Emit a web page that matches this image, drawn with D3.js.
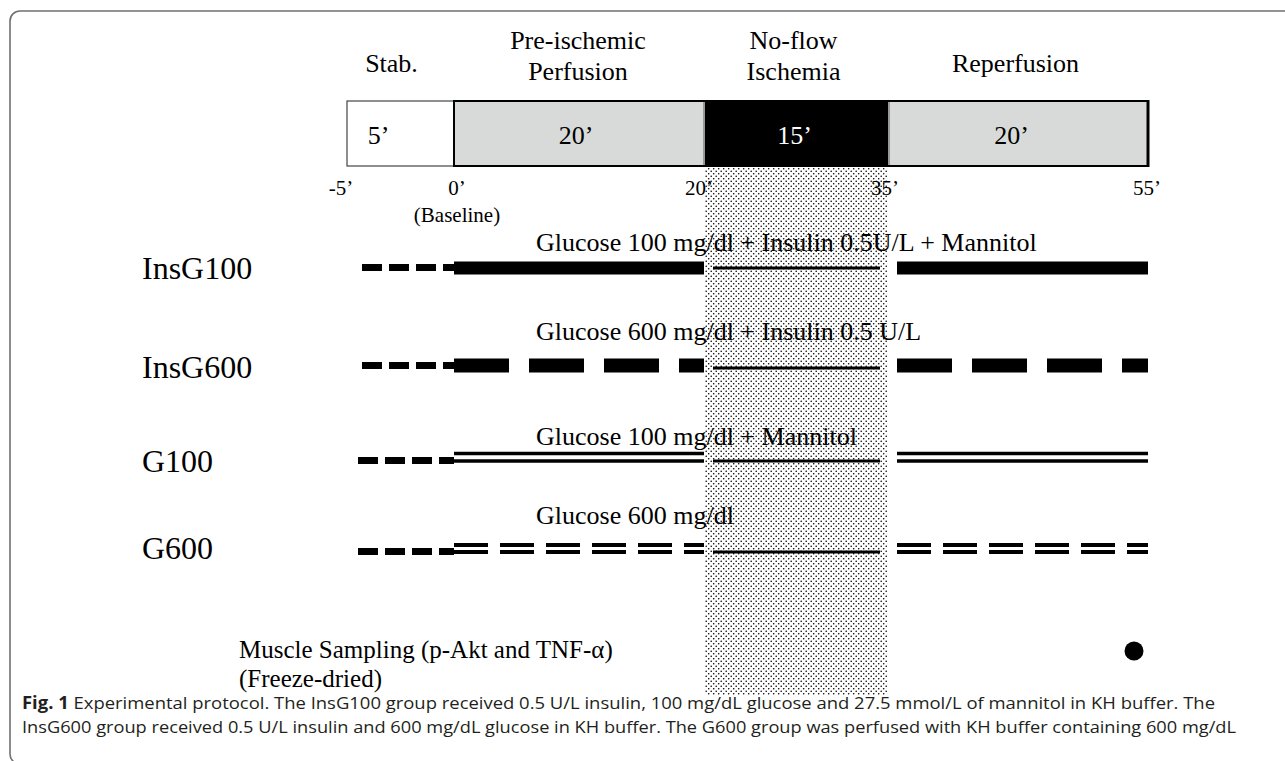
<!DOCTYPE html>
<html>
<head>
<meta charset="utf-8">
<script src="https://cdn.jsdelivr.net/npm/d3@7/dist/d3.min.js"></script>
<style>
  html, body { margin: 0; padding: 0; background: #fff; }
  svg { display: block; }
</style>
</head>
<body>
<svg id="chart" width="1285" height="761"></svg>
<script>
// ---------------- DATA ----------------
const phaseBounds = [-5, 0, 20, 35, 55];              // minutes
const phaseNames = [["Stab."], ["Pre-ischemic", "Perfusion"], ["No-flow", "Ischemia"], ["Reperfusion"]];
const durationLabels = ["5’", "20’", "15’", "20’"];
const tickValues = [-5, 0, 20, 35, 55];
const tickLabels = ["-5’", "0’", "20’", "35’", "55’"];
const baselineLabel = "(Baseline)";
const groups = ["InsG100", "InsG600", "G100", "G600"];
const regimens = [
  "Glucose 100 mg/dl + Insulin 0.5U/L + Mannitol",
  "Glucose 600 mg/dl + Insulin 0.5 U/L",
  "Glucose 100 mg/dl + Mannitol",
  "Glucose 600 mg/dl"
];
const samplingTime = 55;
const samplingLabel = ["Muscle Sampling (p-Akt and TNF-α)", "(Freeze-dried)"];
const captionBold = "Fig. 1";
const captionLines = [
  "Experimental protocol. The InsG100 group received 0.5 U/L insulin, 100 mg/dL glucose and 27.5 mmol/L of mannitol in KH buffer. The",
  "InsG600 group received 0.5 U/L insulin and 600 mg/dL glucose in KH buffer. The G600 group was perfused with KH buffer containing 600 mg/dL"
];

// ---------------- LAYOUT ----------------
const svg = d3.select("#chart");
const serif = "'Liberation Serif', 'Times New Roman', serif";
const x = d3.scaleLinear().domain(phaseBounds).range([347, 454, 704, 889, 1148]);
const barTop = 101, barBot = 166;
const phaseFill = ["#ffffff", "#d8dad9", "#000000", "#d8dad9"];
const rowY = [268, 365.5, 457.25, 548.5];
const stabY = [267.5, 365.5, 460.5, 551.5];
const thinY = [268, 368, 461, 552];
const groupLabelY = [279, 378, 472, 559];
const regimenY = [251, 340, 445, 524];
const regimenX = 536;

// frame
svg.append("rect").attr("x", 10).attr("y", 11).attr("width", 1300).attr("height", 753)
  .attr("rx", 10).attr("fill", "none").attr("stroke", "#707070").attr("stroke-width", 1.6);

// defs: stipple
const defs = svg.append("defs");
const pat = defs.append("pattern").attr("id", "stipple").attr("patternUnits", "userSpaceOnUse")
  .attr("width", 5).attr("height", 5);
pat.append("circle").attr("cx", 1.2).attr("cy", 1.2).attr("r", 0.8).attr("fill", "#000");
pat.append("circle").attr("cx", 3.7).attr("cy", 3.7).attr("r", 0.8).attr("fill", "#000");

// phase bar
const phases = d3.range(4).map(i => ({i, s: phaseBounds[i], e: phaseBounds[i + 1]}));
svg.selectAll("rect.phase").data(phases).join("rect").attr("class", "phase")
  .attr("x", d => x(d.s)).attr("y", barTop)
  .attr("width", d => x(d.e) - x(d.s)).attr("height", barBot - barTop)
  .attr("fill", d => phaseFill[d.i])
  .attr("stroke", d => d.i === 0 ? "#444" : "#000")
  .attr("stroke-width", d => d.i === 0 ? 1.2 : 2);
// thicker right edge of the bar
svg.append("line").attr("x1", x(55)).attr("x2", x(55)).attr("y1", barTop - 1).attr("y2", barBot + 1)
  .attr("stroke", "#000").attr("stroke-width", 3);
// white separators around the black segment
[20, 35].forEach(t => svg.append("line").attr("x1", x(t)).attr("x2", x(t))
  .attr("y1", barTop + 1).attr("y2", barBot - 1).attr("stroke", "#fff").attr("stroke-width", 1.2));

// duration labels
const durDx = [-22, -3, -2, -7];
svg.selectAll("text.dur").data(phases).join("text").attr("class", "dur")
  .attr("x", d => (x(d.s) + x(d.e)) / 2 + durDx[d.i]).attr("y", 144)
  .attr("text-anchor", "middle").attr("font-family", serif).attr("font-size", 26)
  .attr("fill", d => d.i === 2 ? "#fff" : "#000")
  .text(d => durationLabels[d.i]);

// phase names
const nameDx = [-9, -1, -3, -3];
phases.forEach(d => {
  const lines = phaseNames[d.i];
  const ys = lines.length === 2 ? [49, 80] : [72];
  lines.forEach((ln, k) => svg.append("text")
    .attr("x", (x(d.s) + x(d.e)) / 2 + nameDx[d.i]).attr("y", ys[k])
    .attr("text-anchor", "middle").attr("font-family", serif).attr("font-size", 26)
    .text(ln));
});

// ticks
const tickDx = [-6, 3, -5, -4, -1];
svg.selectAll("text.tick").data(tickValues).join("text").attr("class", "tick")
  .attr("x", (d, i) => x(d) + tickDx[i]).attr("y", 195)
  .attr("text-anchor", "middle").attr("font-family", serif).attr("font-size", 21)
  .text((d, i) => tickLabels[i]);
svg.append("text").attr("x", x(0) + 3).attr("y", 222).attr("text-anchor", "middle")
  .attr("font-family", serif).attr("font-size", 21).text(baselineLabel);

// group labels
svg.selectAll("text.group").data(groups).join("text").attr("class", "group")
  .attr("x", 142).attr("y", (d, i) => groupLabelY[i])
  .attr("font-family", serif).attr("font-size", 32).text(d => d);

// regimen labels
svg.selectAll("text.reg").data(regimens).join("text").attr("class", "reg")
  .attr("x", regimenX).attr("y", (d, i) => regimenY[i])
  .attr("font-family", serif).attr("font-size", 26).text(d => d);

// sampling label
samplingLabel.forEach((t, k) => svg.append("text").attr("x", 239).attr("y", 658 + k * 29)
  .attr("font-family", serif).attr("font-size", 25).text(t));

// stippled ischemia column (drawn over text)
svg.append("rect").attr("x", x(20) + 1).attr("y", barBot + 1)
  .attr("width", x(35) - x(20) - 2).attr("height", 695 - barBot - 1)
  .attr("fill", "url(#stipple)");

// protocol lines
function seg(parent, t0, t1, y, w, dash, dx0 = 0, dx1 = 0) {
  parent.append("line").attr("x1", x(t0) + dx0).attr("x2", x(t1) + dx1)
    .attr("y1", y).attr("y2", y).attr("stroke", "#000").attr("stroke-width", w)
    .attr("stroke-dasharray", dash || null);
}
groups.forEach((g, i) => {
  const gp = svg.append("g");
  // stabilisation (dashed)
  seg(gp, -5, 0, stabY[i], 7, "20,7", i < 2 ? 15 : 11, 0);
  // perfusion segments
  [[0, 20, 0, 0], [35, 55, 8, 0]].forEach(([a, b, d0, d1]) => {
    if (i === 0) seg(gp, a, b, rowY[i], 13, null, d0, d1);
    if (i === 1) seg(gp, a, b, rowY[i], 14, "55,20", d0, d1);
    if (i === 2) { seg(gp, a, b, rowY[i] - 3.75, 3.5, null, d0, d1); seg(gp, a, b, rowY[i] + 3.75, 3.5, null, d0, d1); }
    if (i === 3) { seg(gp, a, b, rowY[i] - 3.5, 4, "34,12", d0, d1); seg(gp, a, b, rowY[i] + 3.5, 4, "34,12", d0, d1); }
  });
  // ischemia (thin)
  seg(gp, 20, 35, thinY[i], 3, null, 9, -9);
});

// sampling dot
svg.append("circle").attr("cx", x(samplingTime) - 14).attr("cy", 651).attr("r", 9.5).attr("fill", "#000");

// caption
const sans = "'Open Sans', 'Noto Sans', sans-serif";
const cap1 = svg.append("text").attr("x", 22).attr("y", 709).attr("font-family", sans)
  .attr("font-size", 17).attr("fill", "#231f20")
  .attr("textLength", 1193).attr("lengthAdjust", "spacingAndGlyphs");
cap1.append("tspan").attr("font-weight", "bold").text(captionBold);
cap1.append("tspan").text("  " + captionLines[0]);
svg.append("text").attr("x", 22).attr("y", 733).attr("font-family", sans)
  .attr("font-size", 17).attr("fill", "#231f20")
  .attr("textLength", 1214).attr("lengthAdjust", "spacingAndGlyphs")
  .text(captionLines[1]);
</script>
</body>
</html>
